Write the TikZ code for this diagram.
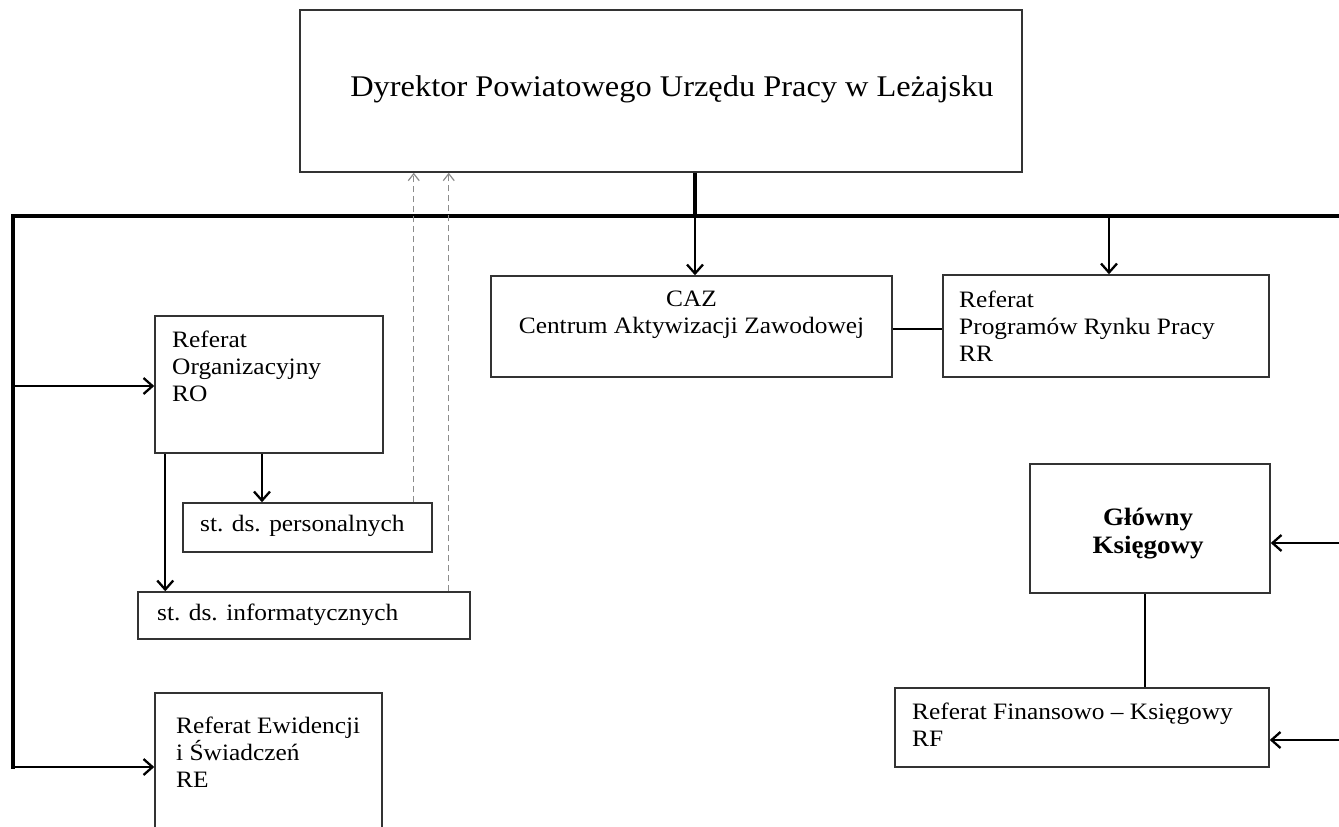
\documentclass[tikz,border=0pt]{standalone}
\usepackage{fontspec}
\setmainfont{Liberation Serif}[FakeStretch=1.08]
\usetikzlibrary{arrows.meta}
\begin{document}
\begin{tikzpicture}[x=1pt,y=-1pt,
  box/.style={draw=black!80, line width=1.5pt, inner sep=0pt, fill=none},
  txt/.style={anchor=north west, inner sep=0pt, align=left, font=\fontsize{23.5}{27}\selectfont},
  bus/.style={line width=3.8pt, line cap=rect},
  arr/.style={line width=2.3pt, -{Straight Barb[length=9pt,width=16pt,line width=2.3pt]}},
  conn/.style={line width=2.2pt},
  dash arr/.style={draw=black!45, line width=1.2pt, dash pattern=on 6pt off 4pt, -{Straight Barb[length=7pt,width=11pt,line width=1.2pt]}}
]
\useasboundingbox (0,0) rectangle (1339,827);

% boxes
\node[box, minimum width=722pt, minimum height=162pt] (dir) at (661,91) {};
\node[box, minimum width=401pt, minimum height=101pt] (caz) at (691.5,326.5) {};
\node[box, minimum width=326pt, minimum height=102pt] (rr) at (1106,326) {};
\node[box, minimum width=228pt, minimum height=137pt] (ro) at (269,384.5) {};
\node[box, minimum width=249pt, minimum height=49pt] (pers) at (307.5,527.5) {};
\node[box, minimum width=332pt, minimum height=47pt] (info) at (304,615.5) {};
\node[box, minimum width=227pt, minimum height=200pt] (re) at (268.5,793) {};
\node[box, minimum width=240pt, minimum height=129pt] (gk) at (1150,528.5) {};
\node[box, minimum width=374pt, minimum height=79pt] (rf) at (1082,727.5) {};

% texts
\node[inner sep=0pt, font=\fontsize{30}{34}\selectfont] (dirt) at (672,89) {Dyrektor Powiatowego Urzędu Pracy w Leżajsku};
\node[txt, anchor=north, align=center] (cazt) at (691.5,291) {CAZ\\Centrum Aktywizacji Zawodowej};
\node[txt] (rrt) at (959,291) {Referat\\Programów Rynku Pracy\\RR};
\node[txt] (rot) at (172,331) {Referat\\Organizacyjny\\RO};
\node[txt] (perst) at (200,515) {st. ds. personalnych};
\node[txt] (infot) at (157,604) {st. ds. informatycznych};
\node[txt] (ret) at (176,717) {Referat Ewidencji\\i Świadczeń\\RE};
\node[inner sep=0pt, align=center, font=\bfseries\fontsize{25}{28}\selectfont] (gkt) at (1148,534) {Główny\\Księgowy};
\node[txt] (rft) at (912,703) {Referat Finansowo – Księgowy\\RF};

% bus coordinates
\coordinate (bl) at (13,216);
\coordinate (br) at (1339,216);
\coordinate (bj) at (695,216);
\coordinate (rj) at (1109,216);
\coordinate (lro) at (13,386);
\coordinate (lb) at (13,767);
\coordinate (rg) at (1339,543);
\coordinate (rfr) at (1339,740);
\coordinate (cr) at (892,329);

% bus
\draw[bus] (br) -- (bl) -- (lb);
\draw[line width=3.4pt] (bj |- dir.south) -- (bj);

% arrows from bus
\draw[arr] (bj) -- (bj |- caz.north);
\draw[arr] (rj) -- (rj |- rr.north);
\draw[arr] (lro) -- (lro -| ro.west);
\draw[arr] (lb) -- (lb -| re.west);

% CAZ - RR
\draw[conn] (cr -| caz.east) -- (cr -| rr.west);

% RO subordinates
\draw[arr] ([xshift=-7pt]ro.south) -- ([xshift=-7pt]ro.south |- pers.north);
\draw[arr] ([xshift=11pt]ro.south west) -- ([xshift=11pt]ro.south west |- info.north);

% dashed reporting lines
\draw[dash arr] ([xshift=-19pt]pers.north east) -- ([xshift=-19pt]pers.north east |- dir.south);
\draw[dash arr] ([xshift=-22pt]info.north east) -- ([xshift=-22pt]info.north east |- dir.south);

% right side
\draw[conn] ([xshift=-5pt]gk.south) -- ([xshift=-5pt]gk.south |- rf.north);
\draw[arr] (rg) -- (rg -| gk.east);
\draw[arr] (rfr) -- (rfr -| rf.east);
\end{tikzpicture}
\end{document}
